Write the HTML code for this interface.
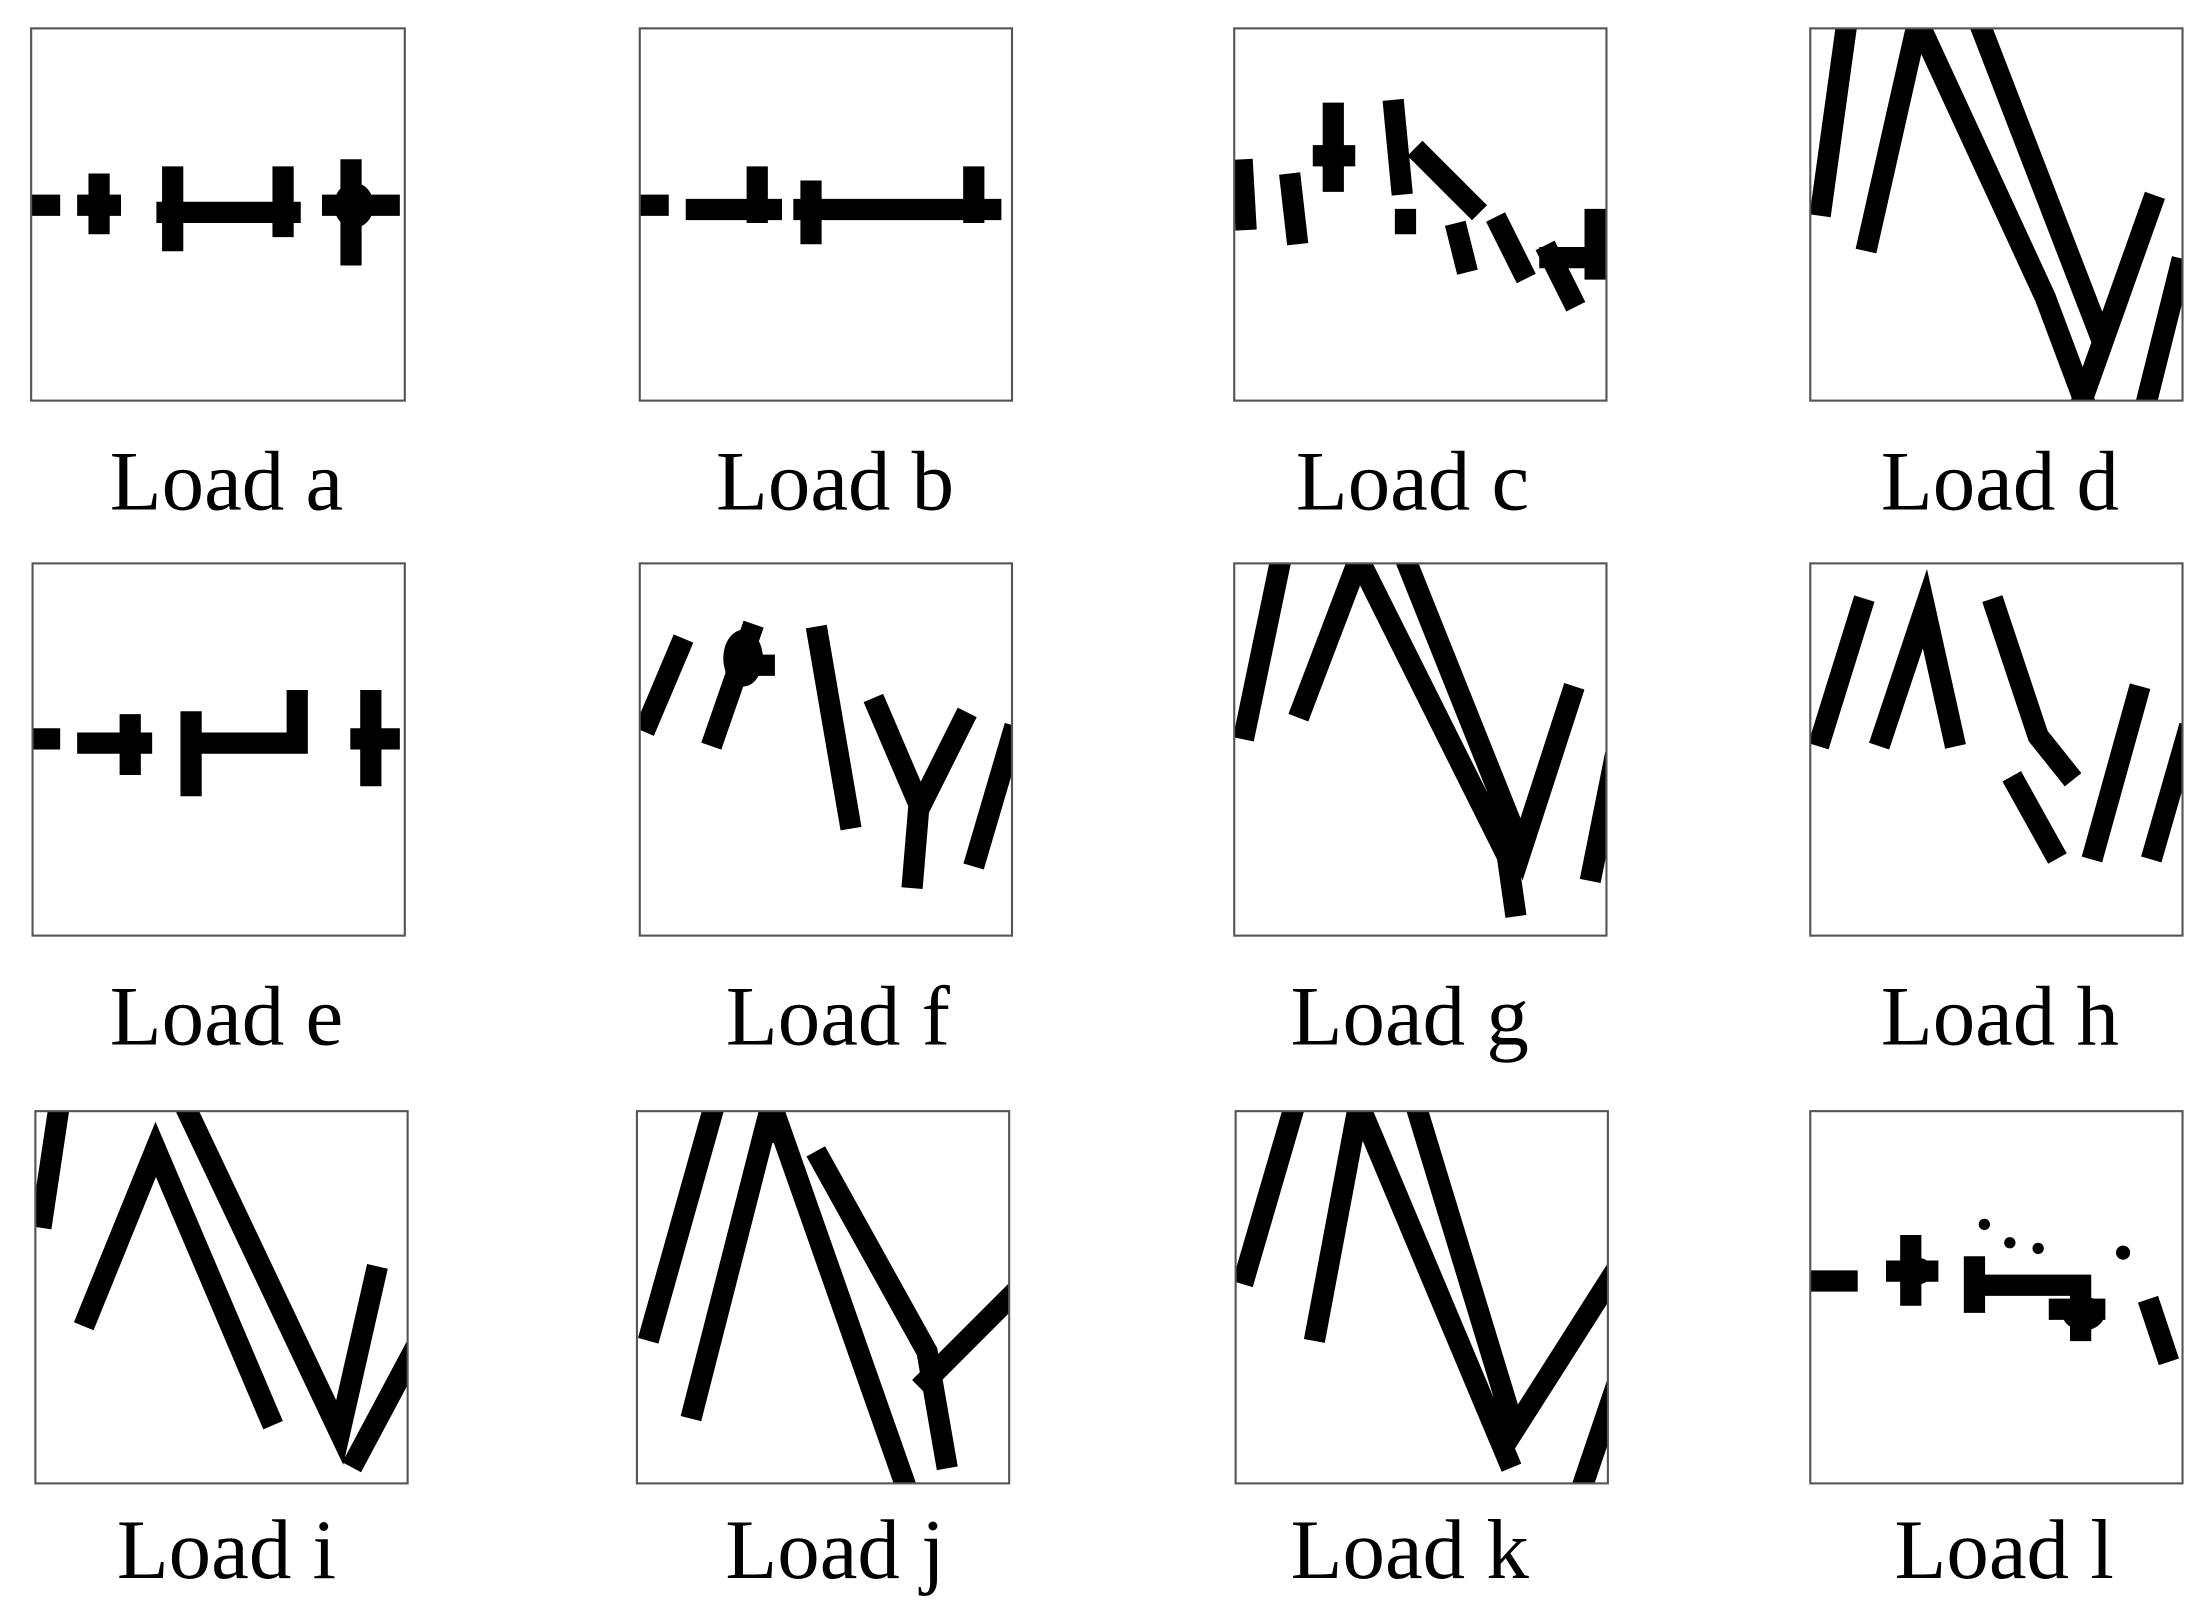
<!DOCTYPE html>
<html><head><meta charset="utf-8"><style>
html,body{margin:0;padding:0;background:#fff;}
svg{display:block;}
</style></head><body>
<svg width="2208" height="1608" viewBox="0 0 1560 1136" xmlns="http://www.w3.org/2000/svg">
<defs><clipPath id="bx">
<rect x="22" y="20" width="264" height="263"/><rect x="452" y="20" width="263" height="263"/><rect x="872" y="20" width="263" height="263"/><rect x="1279" y="20" width="263" height="263"/>
<rect x="23" y="398" width="263" height="263"/><rect x="452" y="398" width="263" height="263"/><rect x="872" y="398" width="263" height="263"/><rect x="1279" y="398" width="263" height="263"/>
<rect x="25" y="785" width="263" height="263"/><rect x="450" y="785" width="263" height="263"/><rect x="873" y="785" width="263" height="263"/><rect x="1279" y="785" width="263" height="263"/>
</clipPath></defs>
<g clip-path="url(#bx)">
<g fill="none" stroke="#000" stroke-width="15" stroke-linecap="square" stroke-linejoin="miter">
<path d="M20 145H35 M62 145H78 M70 130V158 M118 150H205 M122 125V170 M200 125V160 M235 145H275 M248 120V180"/>
<path d="M450 145H465 M492 148H545 M535 125V150 M568 148H700 M573 135V165 M688 125V150"/>
<path d="M878 120L880 155 M912 130L916 165 M935 110H950 M942 80V128 M985 78L990 130 M1005 110L1010 115 M1020 125L1025 130 M1035 140L1040 145 M993 155V158 M1030 165L1035 185 M1060 160L1075 190 M1095 180L1110 210 M1095 182H1128 M1127 155V190"/>
<path d="M1287 145L1305 15 M1320 170L1355 15L1445 210L1475 290 M1398 15L1483 235 M1472 280L1520 145 M1515 290L1540 190"/>
<path d="M20 522H35 M62 525H100 M92 512V540 M135 525H210 M135 510V555 M210 495V525 M255 522H275 M262 495V548"/>
<path d="M458 510L480 458 M505 520L530 448 M520 470H540 M578 450L600 578 M620 500L650 570L680 510 M650 560L645 620 M690 605L715 520"/>
<path d="M880 515L905 395 M920 500L960 395L1065 605L1070 640 M993 395L1075 600L1110 492 M1125 615L1140 540"/>
<path d="M1287 520L1315 430 M1330 520L1360 430L1380 520 M1410 430L1440 520L1460 545 M1425 555L1450 600 M1480 600L1510 492 M1522 600L1545 520"/>
<path d="M30 860L42 780 M62 930L110 812L190 1000 M130 780L240 1012L265 902 M252 1030L292 955"/>
<path d="M460 940L505 780 M490 995L545 780L640 1050 M580 820L655 955L668 1030 M655 975L720 910 M545 780V800"/>
<path d="M880 900L915 780 M930 940L960 780L1065 1030 M1000 780L1070 1010L1140 900 M1118 1050L1140 985"/>
<path d="M1278 905H1305 M1340 898H1362 M1350 880V915 M1395 908H1470 M1395 895V920 M1455 925H1480 M1470 910V940 M1520 925L1530 955"/>
</g>
<g fill="#000">
<circle cx="1402" cy="865" r="4"/><circle cx="1420" cy="878" r="4"/><circle cx="1440" cy="882" r="4"/><circle cx="1500" cy="885" r="5"/>
<ellipse cx="1352" cy="898" rx="14" ry="10"/><ellipse cx="1472" cy="928" rx="15" ry="12"/>
<ellipse cx="250" cy="145" rx="14" ry="16"/><ellipse cx="525" cy="465" rx="14" ry="20"/>
</g>
</g>
<g fill="none" stroke="#555" stroke-width="1.5">
<rect x="22" y="20" width="264" height="263"/><rect x="452" y="20" width="263" height="263"/><rect x="872" y="20" width="263" height="263"/><rect x="1279" y="20" width="263" height="263"/>
<rect x="23" y="398" width="263" height="263"/><rect x="452" y="398" width="263" height="263"/><rect x="872" y="398" width="263" height="263"/><rect x="1279" y="398" width="263" height="263"/>
<rect x="25" y="785" width="263" height="263"/><rect x="450" y="785" width="263" height="263"/><rect x="873" y="785" width="263" height="263"/><rect x="1279" y="785" width="263" height="263"/>
</g>
<g font-family="'Liberation Serif',serif" font-size="60" text-anchor="middle" fill="#000">
<text x="160" y="360">Load a</text><text x="590" y="360">Load b</text><text x="998" y="360">Load c</text><text x="1413" y="360">Load d</text>
<text x="160" y="738">Load e</text><text x="592" y="738">Load f</text><text x="996" y="738">Load g</text><text x="1413" y="738">Load h</text>
<text x="160" y="1115">Load i</text><text x="590" y="1115">Load j</text><text x="996" y="1115">Load k</text><text x="1416" y="1115">Load l</text>
</g>
</svg>
</body></html>
